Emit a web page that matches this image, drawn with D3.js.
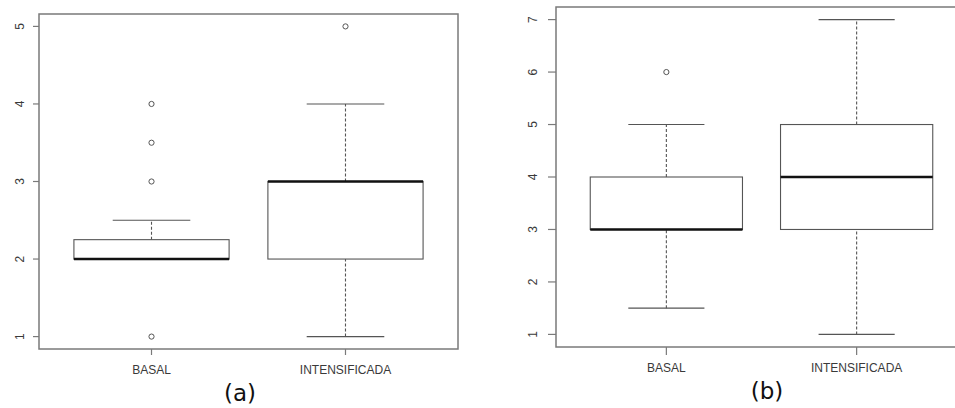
<!DOCTYPE html>
<html>
<head>
<meta charset="utf-8">
<script src="https://cdn.jsdelivr.net/npm/d3@7"></script>
<style>
  body { margin: 0; background: #fff; }
  svg { display: block; }
</style>
</head>
<body>
<div id="chart"></div>
<script>
// categories shared by both panels
var categories = ['BASAL', 'INTENSIFICADA'];

// panel (a) box statistics
var lowA = [2, 1];
var q1A = [2, 2];
var medA = [2, 3];
var q3A = [2.25, 3];
var highA = [2.5, 4];
var outA = [[1, 3, 3.5, 4], [5]];
var ticksA = [1, 2, 3, 4, 5];

// panel (b) box statistics
var lowB = [1.5, 1];
var q1B = [3, 3];
var medB = [3, 4];
var q3B = [4, 5];
var highB = [5, 7];
var outB = [[6], []];
var ticksB = [1, 2, 3, 4, 5, 6, 7];

var width = 955, height = 408;
var frameColor = '#7a7a7a';
var boxColor = '#555';
var textColor = '#3a3a3a';
var labelFont = '"Liberation Sans", Arial, sans-serif';

function px(v) { return v + 'px'; }

window.onload = function() {
    var svg = d3.select('#chart').append('svg')
        .attr('width', width)
        .attr('height', height);

    drawPanel(svg, {
        left: 39, right: 458, top: 14, bottom: 349,
        yDomain: [0.84, 5.16], ticks: ticksA,
        low: lowA, q1: q1A, med: medA, q3: q3A, high: highA, out: outA,
        tickLen: 6, yLabelX: 20, catY: 374,
        tag: '(a)', tagX: 240, tagY: 401
    });

    drawPanel(svg, {
        left: 556, right: 967, top: 7, bottom: 347,
        yDomain: [0.76, 7.24], ticks: ticksB,
        low: lowB, q1: q1B, med: medB, q3: q3B, high: highB, out: outB,
        tickLen: 8, yLabelX: 533, catY: 372,
        tag: '(b)', tagX: 767, tagY: 399
    });
};

function drawPanel(svg, c) {
    var x = d3.scaleLinear().domain([0.42, 2.58]).range([c.left, c.right]);
    var y = d3.scaleLinear().domain(c.yDomain).range([c.bottom, c.top]);
    var boxW = x(1.8) - x(1);
    var capW = boxW / 2;

    var g = svg.append('g');

    // frame
    g.append('rect')
        .attr('x', c.left).attr('y', c.top)
        .attr('width', c.right - c.left).attr('height', c.bottom - c.top)
        .attr('fill', 'none')
        .attr('stroke', frameColor)
        .attr('stroke-width', 1.5);

    // y axis (ticks + rotated labels)
    var yAxis = g.append('g');
    yAxis.selectAll('line').data(c.ticks).enter().append('line')
        .attr('x1', c.left - c.tickLen).attr('x2', c.left)
        .attr('y1', function(d) { return y(d); })
        .attr('y2', function(d) { return y(d); })
        .attr('stroke', frameColor).attr('stroke-width', 1.2);
    yAxis.selectAll('text').data(c.ticks).enter().append('text')
        .attr('transform', function(d) {
            return 'translate(' + c.yLabelX + ',' + y(d) + ') rotate(-90)';
        })
        .attr('text-anchor', 'middle')
        .attr('dy', '0.35em')
        .style('font-family', labelFont)
        .style('font-size', px(12))
        .attr('fill', textColor)
        .text(function(d) { return d; });

    // x axis (ticks + category labels)
    var xAxis = g.append('g');
    xAxis.selectAll('line').data(categories).enter().append('line')
        .attr('x1', function(d, i) { return x(i + 1); })
        .attr('x2', function(d, i) { return x(i + 1); })
        .attr('y1', c.bottom).attr('y2', c.bottom + c.tickLen)
        .attr('stroke', frameColor).attr('stroke-width', 1.2);
    xAxis.selectAll('text').data(categories).enter().append('text')
        .attr('x', function(d, i) { return x(i + 1); })
        .attr('y', c.catY)
        .attr('text-anchor', 'middle')
        .style('font-family', labelFont)
        .style('font-size', px(12))
        .attr('fill', textColor)
        .text(function(d) { return d; });

    // boxes
    categories.forEach(function(cat, i) {
        var cx = x(i + 1);
        var b = g.append('g');

        // whiskers
        [[c.q3[i], c.high[i]], [c.low[i], c.q1[i]]].forEach(function(w) {
            if (w[0] === w[1]) return;
            b.append('line')
                .attr('x1', cx).attr('x2', cx)
                .attr('y1', y(w[0])).attr('y2', y(w[1]))
                .attr('stroke', boxColor)
                .attr('stroke-width', 1.1)
                .attr('stroke-dasharray', '3,2');
        });
        [c.low[i], c.high[i]].forEach(function(v) {
            b.append('line')
                .attr('x1', cx - capW / 2).attr('x2', cx + capW / 2)
                .attr('y1', y(v)).attr('y2', y(v))
                .attr('stroke', boxColor)
                .attr('stroke-width', 1.1);
        });

        // box
        b.append('rect')
            .attr('x', cx - boxW / 2)
            .attr('y', y(c.q3[i]))
            .attr('width', boxW)
            .attr('height', y(c.q1[i]) - y(c.q3[i]))
            .attr('fill', '#fff')
            .attr('stroke', boxColor)
            .attr('stroke-width', 1.1);

        // median
        b.append('line')
            .attr('x1', cx - boxW / 2).attr('x2', cx + boxW / 2)
            .attr('y1', y(c.med[i])).attr('y2', y(c.med[i]))
            .attr('stroke', '#111')
            .attr('stroke-width', 2.6);

        // outliers
        b.selectAll('circle').data(c.out[i]).enter().append('circle')
            .attr('cx', cx)
            .attr('cy', function(d) { return y(d); })
            .attr('r', 2.6)
            .attr('fill', 'none')
            .attr('stroke', boxColor)
            .attr('stroke-width', 1);
    });

    // panel tag
    svg.append('text')
        .attr('x', c.tagX).attr('y', c.tagY)
        .attr('text-anchor', 'middle')
        .style('font-family', '"DejaVu Sans", Verdana, sans-serif')
        .style('font-size', px(23))
        .attr('fill', '#111')
        .text(c.tag);
}
</script>
</body>
</html>
